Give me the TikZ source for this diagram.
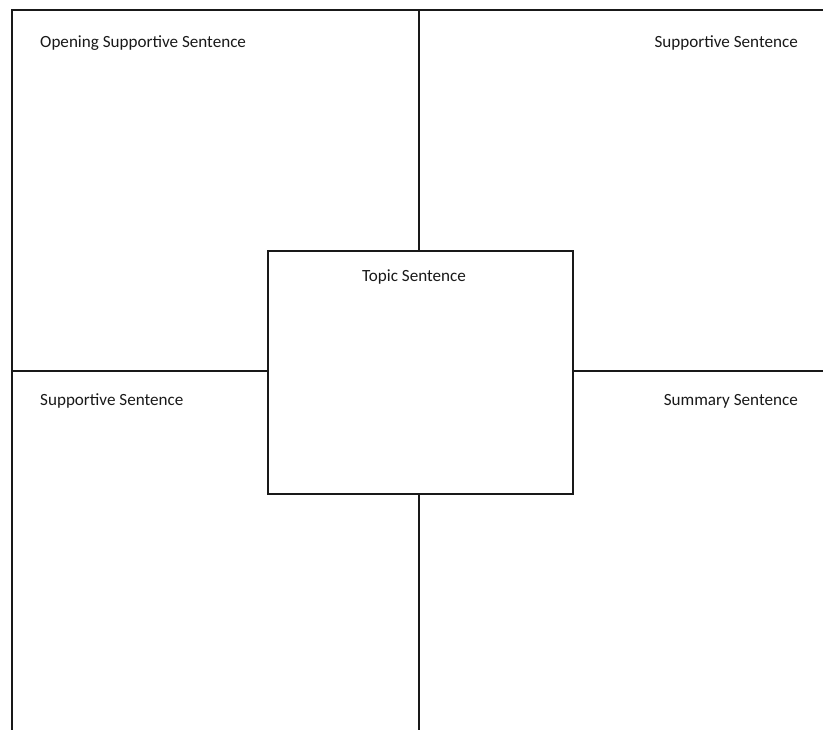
\documentclass[tikz,border=0pt]{standalone}
\usepackage{fontspec}
\setmainfont{Carlito}
\begin{document}
\begin{tikzpicture}[x=1pt,y=-1pt,
  rule/.style={line width=2.8pt,draw=black!90},
  centerbox/.style={rule,fill=white,minimum width=305pt,minimum height=243pt,inner sep=0pt},
  lbl/.style={font=\fontsize{17.1}{20}\selectfont,text=black!90,inner sep=0pt}]
\useasboundingbox (0,0) rectangle (823,730);
% outer frame
\coordinate (tl) at (12,10);
\coordinate (tr) at (823,10);
\coordinate (bl) at (12,730);
\draw[rule,line cap=rect] (tr) -- (tl) -- (bl);
% centre box
\node[centerbox] (topic) at (420.5,372.5) {};
% dividers
\coordinate (vtop) at (419,10);
\coordinate (vbot) at (419,730);
\coordinate (hl) at (12,371);
\coordinate (hr) at (823,371);
\draw[rule] (vtop) -- (vtop |- topic.north);
\draw[rule] (vbot) -- (vbot |- topic.south);
\draw[rule] (hl) -- (hl -| topic.west);
\draw[rule] (hr) -- (hr -| topic.east);
% labels
\node[lbl,anchor=west] (l1) at (40,43) {Opening Supportive Sentence};
\node[lbl,anchor=east] (l2) at (798,43) {Supportive Sentence};
\node[lbl] (l3) at (414,277) {Topic Sentence};
\node[lbl,anchor=west] (l4) at (40,401) {Supportive Sentence};
\node[lbl,anchor=east] (l5) at (798,401) {Summary Sentence};
\end{tikzpicture}
\end{document}
